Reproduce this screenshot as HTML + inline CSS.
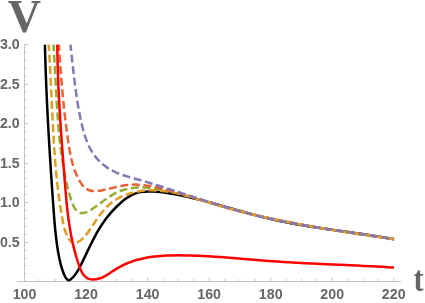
<!DOCTYPE html>
<html><head><meta charset="utf-8"><style>
html,body{margin:0;padding:0;background:#fff;}
body{width:425px;height:303px;overflow:hidden;}
svg{display:block;}
.tk{font-family:"Liberation Sans",sans-serif;font-weight:bold;font-size:14.2px;fill:#666;}
.lb{font-family:"Liberation Serif",serif;font-weight:bold;fill:#666;}
</style></head><body>
<svg width="425" height="303" viewBox="0 0 425 303">
<rect width="425" height="303" fill="#fff"/>
<clipPath id="c"><rect x="17" y="44.3" width="385" height="240"/></clipPath>
<rect x="17" y="281" width="384" height="1" fill="#c2c2c2"/>
<rect x="24" y="44" width="1" height="238" fill="#c2c2c2"/>
<rect x="39.38" y="279.00" width="1" height="2" fill="#c8c8c8"/>
<rect x="54.77" y="279.00" width="1" height="2" fill="#c8c8c8"/>
<rect x="70.16" y="279.00" width="1" height="2" fill="#c8c8c8"/>
<rect x="85.54" y="277.50" width="1" height="3.5" fill="#c8c8c8"/>
<rect x="100.92" y="279.00" width="1" height="2" fill="#c8c8c8"/>
<rect x="116.31" y="279.00" width="1" height="2" fill="#c8c8c8"/>
<rect x="131.69" y="279.00" width="1" height="2" fill="#c8c8c8"/>
<rect x="147.08" y="277.50" width="1" height="3.5" fill="#c8c8c8"/>
<rect x="162.47" y="279.00" width="1" height="2" fill="#c8c8c8"/>
<rect x="177.85" y="279.00" width="1" height="2" fill="#c8c8c8"/>
<rect x="193.23" y="279.00" width="1" height="2" fill="#c8c8c8"/>
<rect x="208.62" y="277.50" width="1" height="3.5" fill="#c8c8c8"/>
<rect x="224.00" y="279.00" width="1" height="2" fill="#c8c8c8"/>
<rect x="239.39" y="279.00" width="1" height="2" fill="#c8c8c8"/>
<rect x="254.78" y="279.00" width="1" height="2" fill="#c8c8c8"/>
<rect x="270.16" y="277.50" width="1" height="3.5" fill="#c8c8c8"/>
<rect x="285.55" y="279.00" width="1" height="2" fill="#c8c8c8"/>
<rect x="300.93" y="279.00" width="1" height="2" fill="#c8c8c8"/>
<rect x="316.31" y="279.00" width="1" height="2" fill="#c8c8c8"/>
<rect x="331.70" y="277.50" width="1" height="3.5" fill="#c8c8c8"/>
<rect x="347.08" y="279.00" width="1" height="2" fill="#c8c8c8"/>
<rect x="362.47" y="279.00" width="1" height="2" fill="#c8c8c8"/>
<rect x="377.86" y="279.00" width="1" height="2" fill="#c8c8c8"/>
<rect x="393.24" y="277.50" width="1" height="3.5" fill="#c8c8c8"/>
<rect x="25" y="273" width="1.6" height="1" fill="#c8c8c8"/>
<rect x="25" y="265" width="1.6" height="1" fill="#c8c8c8"/>
<rect x="25" y="258" width="1.6" height="1" fill="#c8c8c8"/>
<rect x="25" y="250" width="1.6" height="1" fill="#c8c8c8"/>
<rect x="25" y="242" width="3.5" height="1" fill="#c8c8c8"/>
<rect x="25" y="234" width="1.6" height="1" fill="#c8c8c8"/>
<rect x="25" y="226" width="1.6" height="1" fill="#c8c8c8"/>
<rect x="25" y="218" width="1.6" height="1" fill="#c8c8c8"/>
<rect x="25" y="210" width="1.6" height="1" fill="#c8c8c8"/>
<rect x="25" y="202" width="3.5" height="1" fill="#c8c8c8"/>
<rect x="25" y="194" width="1.6" height="1" fill="#c8c8c8"/>
<rect x="25" y="186" width="1.6" height="1" fill="#c8c8c8"/>
<rect x="25" y="178" width="1.6" height="1" fill="#c8c8c8"/>
<rect x="25" y="171" width="1.6" height="1" fill="#c8c8c8"/>
<rect x="25" y="163" width="3.5" height="1" fill="#c8c8c8"/>
<rect x="25" y="155" width="1.6" height="1" fill="#c8c8c8"/>
<rect x="25" y="147" width="1.6" height="1" fill="#c8c8c8"/>
<rect x="25" y="139" width="1.6" height="1" fill="#c8c8c8"/>
<rect x="25" y="131" width="1.6" height="1" fill="#c8c8c8"/>
<rect x="25" y="123" width="3.5" height="1" fill="#c8c8c8"/>
<rect x="25" y="115" width="1.6" height="1" fill="#c8c8c8"/>
<rect x="25" y="107" width="1.6" height="1" fill="#c8c8c8"/>
<rect x="25" y="99" width="1.6" height="1" fill="#c8c8c8"/>
<rect x="25" y="91" width="1.6" height="1" fill="#c8c8c8"/>
<rect x="25" y="84" width="3.5" height="1" fill="#c8c8c8"/>
<rect x="25" y="76" width="1.6" height="1" fill="#c8c8c8"/>
<rect x="25" y="68" width="1.6" height="1" fill="#c8c8c8"/>
<rect x="25" y="60" width="1.6" height="1" fill="#c8c8c8"/>
<rect x="25" y="52" width="1.6" height="1" fill="#c8c8c8"/>
<rect x="25" y="44" width="3.5" height="1" fill="#c8c8c8"/>
<g clip-path="url(#c)">
<path d="M44.90,44.48C44.95,46.48 45.00,48.48 45.06,50.47C45.11,52.47 45.17,54.46 45.23,56.46C45.29,58.46 45.35,60.45 45.41,62.44C45.48,64.44 45.54,66.43 45.61,68.42C45.68,70.42 45.75,72.41 45.82,74.40C45.90,76.39 45.97,78.38 46.05,80.37C46.13,82.36 46.21,84.35 46.29,86.34C46.37,88.33 46.45,90.32 46.54,92.31C46.63,94.30 46.72,96.28 46.81,98.27C46.90,100.26 46.99,102.25 47.08,104.23C47.18,106.22 47.27,108.21 47.37,110.20C47.47,112.18 47.57,114.17 47.67,116.16C47.77,118.14 47.88,120.13 47.98,122.11C48.09,124.10 48.20,126.09 48.31,128.07C48.42,130.06 48.53,132.04 48.64,134.03C48.75,136.02 48.87,138.00 48.98,139.99C49.10,141.97 49.21,143.96 49.33,145.94C49.45,147.93 49.57,149.92 49.69,151.90C49.82,153.89 49.94,155.88 50.06,157.86C50.19,159.85 50.32,161.84 50.44,163.82C50.57,165.81 50.70,167.80 50.83,169.79C50.96,171.77 51.09,173.76 51.22,175.75C51.36,177.74 51.49,179.73 51.63,181.72C51.76,183.71 51.90,185.70 52.03,187.69C52.17,189.68 52.31,191.67 52.45,193.66C52.59,195.65 52.73,197.64 52.87,199.63C53.01,201.63 53.15,203.62 53.30,205.61C53.44,207.61 53.59,209.60 53.73,211.60C53.88,213.59 54.03,215.58 54.18,217.58C54.34,219.57 54.50,221.56 54.67,223.55C54.84,225.54 55.02,227.53 55.21,229.51C55.40,231.49 55.61,233.47 55.83,235.45C56.05,237.42 56.28,239.39 56.54,241.36C56.79,243.32 57.06,245.28 57.36,247.23C57.65,249.18 57.97,251.12 58.31,253.05C58.65,254.99 59.02,256.91 59.42,258.83C59.83,260.76 60.28,262.68 60.80,264.62C61.31,266.57 61.90,268.53 62.58,270.52C63.26,272.51 64.02,274.55 65.02,276.46C66.01,278.37 67.25,280.25 68.66,280.26C70.08,280.27 71.59,278.66 72.89,277.35C74.18,276.04 75.35,274.53 76.43,272.90C77.52,271.28 78.52,269.52 79.47,267.72C80.42,265.91 81.33,264.06 82.23,262.21C83.13,260.36 84.02,258.52 84.90,256.67C85.78,254.83 86.65,252.99 87.53,251.16C88.40,249.34 89.28,247.52 90.17,245.71C91.05,243.90 91.94,242.11 92.85,240.33C93.76,238.56 94.68,236.80 95.62,235.06C96.57,233.33 97.53,231.62 98.53,229.93C99.53,228.24 100.55,226.58 101.61,224.96C102.68,223.33 103.77,221.73 104.92,220.17C106.06,218.61 107.24,217.08 108.48,215.58C109.71,214.07 111.00,212.59 112.34,211.13C113.68,209.66 115.07,208.21 116.53,206.75C117.99,205.30 119.51,203.84 121.09,202.44C122.67,201.04 124.30,199.70 125.99,198.49C127.67,197.27 129.41,196.18 131.18,195.29C132.96,194.39 134.77,193.68 136.62,193.12C138.47,192.56 140.36,192.16 142.26,191.88C144.17,191.61 146.11,191.46 148.06,191.41C150.01,191.36 151.97,191.41 153.95,191.53C155.93,191.65 157.91,191.85 159.90,192.08C161.88,192.31 163.86,192.59 165.84,192.88C167.82,193.17 169.79,193.49 171.76,193.82C173.73,194.16 175.69,194.51 177.65,194.89C179.61,195.26 181.56,195.65 183.51,196.06C185.46,196.47 187.41,196.89 189.35,197.33C191.29,197.77 193.23,198.22 195.17,198.69C197.11,199.16 199.04,199.63 200.97,200.12C202.90,200.61 204.83,201.11 206.76,201.62C208.68,202.12 210.61,202.64 212.53,203.16C214.45,203.69 216.37,204.21 218.29,204.75C220.21,205.28 222.13,205.82 224.05,206.36C225.96,206.90 227.88,207.45 229.80,207.99C231.71,208.54 233.63,209.08 235.55,209.62C237.46,210.17 239.38,210.71 241.30,211.25C243.22,211.79 245.13,212.33 247.05,212.86C248.97,213.39 250.89,213.92 252.82,214.44C254.74,214.96 256.66,215.47 258.59,215.97C260.51,216.47 262.44,216.97 264.37,217.45C266.30,217.94 268.24,218.41 270.17,218.87C272.11,219.33 274.05,219.77 275.99,220.21C277.93,220.64 279.88,221.06 281.83,221.46C283.77,221.87 285.73,222.26 287.68,222.64C289.63,223.02 291.59,223.39 293.55,223.74C295.51,224.10 297.47,224.45 299.44,224.79C301.40,225.12 303.37,225.45 305.33,225.78C307.30,226.10 309.27,226.41 311.24,226.72C313.21,227.02 315.18,227.32 317.16,227.62C319.13,227.91 321.10,228.20 323.08,228.49C325.05,228.78 327.03,229.06 329.00,229.34C330.98,229.62 332.96,229.89 334.93,230.17C336.91,230.44 338.89,230.72 340.86,230.99C342.84,231.27 344.82,231.54 346.79,231.82C348.77,232.09 350.74,232.37 352.72,232.65C354.69,232.93 356.66,233.21 358.64,233.49C360.61,233.78 362.58,234.07 364.55,234.36C366.52,234.66 368.49,234.96 370.45,235.26C372.42,235.57 374.38,235.88 376.35,236.20C378.31,236.52 380.27,236.85 382.22,237.18C384.18,237.52 386.14,237.87 388.09,238.22C390.04,238.58 391.99,238.95 393.94,239.32" fill="none" stroke="#000000" stroke-width="2.5"/>
<path d="M48.68,44.51C48.82,46.48 48.95,48.45 49.07,50.42C49.20,52.39 49.32,54.36 49.44,56.33C49.56,58.30 49.67,60.28 49.78,62.25C49.89,64.22 50.00,66.20 50.10,68.17C50.21,70.15 50.31,72.12 50.41,74.10C50.51,76.08 50.61,78.06 50.70,80.03C50.80,82.01 50.89,83.99 50.99,85.97C51.08,87.95 51.17,89.93 51.26,91.91C51.36,93.89 51.45,95.87 51.54,97.85C51.63,99.83 51.72,101.81 51.82,103.79C51.91,105.77 52.00,107.75 52.09,109.73C52.19,111.71 52.28,113.69 52.38,115.67C52.48,117.65 52.58,119.63 52.68,121.60C52.78,123.58 52.88,125.56 52.99,127.54C53.10,129.52 53.21,131.50 53.32,133.47C53.43,135.45 53.55,137.43 53.67,139.40C53.79,141.38 53.92,143.36 54.05,145.33C54.17,147.30 54.31,149.28 54.45,151.25C54.59,153.22 54.73,155.19 54.88,157.16C55.03,159.14 55.19,161.10 55.35,163.07C55.51,165.04 55.68,167.01 55.85,168.97C56.03,170.94 56.21,172.90 56.40,174.87C56.59,176.83 56.79,178.79 56.99,180.75C57.19,182.71 57.41,184.67 57.63,186.63C57.85,188.58 58.09,190.54 58.33,192.50C58.57,194.46 58.83,196.42 59.09,198.37C59.36,200.33 59.63,202.29 59.93,204.25C60.22,206.22 60.52,208.18 60.84,210.14C61.16,212.11 61.49,214.07 61.84,216.04C62.19,218.01 62.55,219.99 62.94,221.96C63.33,223.93 63.76,225.90 64.27,227.83C64.78,229.77 65.38,231.68 66.11,233.53C66.85,235.39 67.71,237.20 68.76,238.93C69.81,240.65 71.04,242.25 72.59,242.88" fill="none" stroke="#E19C24" stroke-width="2.5" stroke-dasharray="8.0 3.6" stroke-dashoffset="1.50"/>
<path d="M72.59,242.88C74.14,243.50 76.11,242.90 77.90,241.99C79.69,241.08 81.25,239.94 82.66,238.63C84.07,237.33 85.34,235.87 86.53,234.32C87.72,232.77 88.84,231.14 89.96,229.49C91.09,227.84 92.20,226.16 93.33,224.48C94.46,222.81 95.59,221.13 96.75,219.47C97.91,217.81 99.10,216.17 100.32,214.57C101.54,212.98 102.79,211.42 104.10,209.93C105.41,208.44 106.77,207.01 108.19,205.67C109.61,204.33 111.11,203.08 112.67,201.93C114.23,200.77 115.85,199.71 117.53,198.74C119.21,197.77 120.95,196.89 122.73,196.10C124.51,195.30 126.33,194.60 128.19,193.97C130.05,193.35 131.94,192.81 133.85,192.35C135.76,191.89 137.70,191.51 139.65,191.21C141.60,190.90 143.56,190.68 145.52,190.52C147.49,190.37 149.45,190.28 151.41,190.27C153.36,190.26 155.31,190.31 157.25,190.43C159.20,190.54 161.14,190.72 163.07,190.95C165.00,191.18 166.93,191.46 168.85,191.78C170.78,192.11 172.69,192.48 174.61,192.89C176.53,193.30 178.44,193.75 180.35,194.23C182.26,194.70 184.16,195.21 186.07,195.74C187.97,196.27 189.87,196.82 191.77,197.38C193.67,197.95 195.57,198.53 197.47,199.12C199.37,199.70 201.27,200.30 203.16,200.89C205.06,201.49 206.96,202.08 208.86,202.66C210.76,203.25 212.66,203.82 214.56,204.39C216.46,204.95 218.36,205.51 220.26,206.05C222.16,206.60 224.07,207.14 225.97,207.66C227.88,208.19 229.78,208.71 231.69,209.22C233.60,209.73 235.50,210.24 237.41,210.73C239.32,211.22 241.23,211.71 243.14,212.19C245.05,212.66 246.96,213.13 248.87,213.60C250.78,214.06 252.70,214.51 254.61,214.96C256.53,215.41 258.44,215.85 260.36,216.28C262.27,216.71 264.19,217.14 266.11,217.56C268.02,217.98 269.94,218.39 271.86,218.80C273.78,219.21 275.70,219.61 277.62,220.00C279.55,220.40 281.47,220.78 283.39,221.17C285.32,221.55 287.24,221.93 289.17,222.30C291.09,222.67 293.02,223.04 294.94,223.40C296.87,223.76 298.80,224.12 300.73,224.47C302.66,224.82 304.59,225.17 306.52,225.51C308.45,225.85 310.38,226.19 312.32,226.52C314.25,226.86 316.18,227.19 318.12,227.52C320.05,227.84 321.99,228.17 323.93,228.48C325.86,228.80 327.80,229.12 329.74,229.43C331.68,229.75 333.62,230.06 335.56,230.36C337.50,230.67 339.44,230.98 341.38,231.28C343.33,231.58 345.27,231.88 347.21,232.18C349.16,232.47 351.10,232.77 353.05,233.06C355.00,233.36 356.94,233.65 358.89,233.94C360.84,234.23 362.79,234.52 364.74,234.81C366.69,235.10 368.64,235.38 370.60,235.67C372.55,235.95 374.50,236.24 376.45,236.52C378.41,236.81 380.36,237.09 382.32,237.38C384.28,237.66 386.23,237.95 388.19,238.23C390.15,238.51 392.11,238.80 394.07,239.08" fill="none" stroke="#E19C24" stroke-width="2.5" stroke-dasharray="8.0 3.6" stroke-dashoffset="7.29"/>
<path d="M53.42,44.52C53.57,46.48 53.70,48.45 53.83,50.41C53.96,52.38 54.09,54.35 54.21,56.32C54.33,58.30 54.44,60.27 54.55,62.25C54.67,64.23 54.78,66.21 54.88,68.19C54.99,70.17 55.09,72.15 55.20,74.14C55.30,76.12 55.40,78.11 55.51,80.09C55.61,82.08 55.71,84.07 55.82,86.06C55.92,88.05 56.03,90.04 56.13,92.03C56.24,94.02 56.35,96.01 56.46,98.00C56.57,99.99 56.69,101.98 56.81,103.97C56.93,105.96 57.06,107.95 57.19,109.94C57.32,111.93 57.45,113.92 57.59,115.90C57.74,117.89 57.88,119.88 58.04,121.86C58.20,123.84 58.36,125.83 58.53,127.81C58.70,129.79 58.88,131.77 59.08,133.74C59.27,135.72 59.47,137.69 59.68,139.66C59.89,141.64 60.11,143.60 60.34,145.57C60.58,147.54 60.82,149.50 61.08,151.46C61.34,153.42 61.61,155.37 61.90,157.32C62.19,159.28 62.49,161.22 62.80,163.17C63.12,165.11 63.45,167.05 63.79,168.99C64.14,170.92 64.50,172.85 64.88,174.78C65.26,176.70 65.66,178.62 66.08,180.54C66.49,182.45 66.92,184.36 67.39,186.28C67.85,188.20 68.34,190.13 68.87,192.10C69.40,194.07 69.97,196.08 70.59,198.14C71.21,200.20 71.89,202.32 72.69,204.28C73.49,206.24 74.42,208.05 75.55,209.50C76.67,210.96 78.00,212.05 79.58,212.61C81.15,213.17 82.93,213.23 84.73,212.85C86.52,212.48 88.30,211.64 90.04,210.58C91.77,209.53 93.47,208.30 95.13,207.09C96.80,205.88 98.44,204.65 100.08,203.42C101.71,202.20 103.33,200.98 104.96,199.80C106.59,198.62 108.22,197.47 109.88,196.40C111.54,195.32 113.23,194.32 114.95,193.41C116.67,192.50 118.44,191.70 120.26,191.02C122.08,190.33 123.95,189.76 125.85,189.30C127.75,188.83 129.69,188.47 131.65,188.19C133.61,187.92 135.60,187.73 137.60,187.62C139.59,187.52 141.60,187.49 143.61,187.52C145.62,187.55 147.64,187.65 149.63,187.80C151.63,187.95 153.62,188.15 155.60,188.40C157.57,188.65 159.54,188.94 161.49,189.27C163.45,189.61 165.40,189.98 167.33,190.39C169.27,190.79 171.20,191.23 173.13,191.70C175.05,192.17 176.97,192.67 178.88,193.19C180.79,193.71 182.70,194.25 184.60,194.81C186.50,195.37 188.40,195.94 190.30,196.53C192.19,197.11 194.09,197.71 195.98,198.31C197.87,198.91 199.77,199.51 201.66,200.12C203.55,200.72 205.44,201.33 207.34,201.92C209.23,202.52 211.13,203.11 213.03,203.68C214.93,204.26 216.83,204.83 218.74,205.39C220.64,205.95 222.55,206.50 224.46,207.04C226.37,207.58 228.28,208.12 230.19,208.64C232.11,209.17 234.02,209.68 235.94,210.19C237.86,210.70 239.78,211.20 241.70,211.69C243.62,212.18 245.55,212.66 247.47,213.14C249.40,213.61 251.33,214.08 253.25,214.54C255.18,215.00 257.12,215.45 259.05,215.90C260.98,216.35 262.92,216.78 264.85,217.22C266.79,217.65 268.73,218.07 270.67,218.49C272.61,218.91 274.55,219.32 276.49,219.73C278.43,220.14 280.38,220.54 282.32,220.93C284.27,221.32 286.21,221.71 288.16,222.09C290.11,222.48 292.06,222.85 294.01,223.22C295.96,223.60 297.91,223.96 299.86,224.32C301.82,224.69 303.77,225.04 305.72,225.39C307.68,225.74 309.63,226.09 311.59,226.43C313.55,226.78 315.50,227.11 317.46,227.45C319.42,227.78 321.38,228.11 323.34,228.44C325.30,228.76 327.26,229.08 329.22,229.40C331.18,229.72 333.14,230.04 335.10,230.35C337.06,230.66 339.02,230.97 340.99,231.27C342.95,231.58 344.91,231.88 346.88,232.18C348.84,232.48 350.80,232.78 352.77,233.07C354.73,233.37 356.69,233.66 358.66,233.95C360.62,234.24 362.58,234.53 364.55,234.82C366.51,235.10 368.48,235.39 370.44,235.67C372.41,235.96 374.37,236.24 376.33,236.52C378.30,236.80 380.26,237.08 382.22,237.36C384.19,237.64 386.15,237.92 388.11,238.19C390.07,238.47 392.04,238.75 394.00,239.02" fill="none" stroke="#8FB032" stroke-width="2.5" stroke-dasharray="8.0 3.6" stroke-dashoffset="1.50"/>
<path d="M58.83,44.47C58.97,46.48 59.10,48.48 59.24,50.48C59.37,52.48 59.51,54.48 59.65,56.47C59.79,58.46 59.93,60.45 60.07,62.43C60.22,64.42 60.36,66.40 60.51,68.38C60.66,70.36 60.81,72.33 60.96,74.31C61.12,76.28 61.27,78.25 61.44,80.22C61.60,82.20 61.76,84.16 61.93,86.13C62.10,88.10 62.27,90.06 62.45,92.03C62.63,93.99 62.81,95.96 63.00,97.92C63.19,99.89 63.39,101.85 63.58,103.81C63.78,105.78 63.99,107.74 64.20,109.70C64.41,111.66 64.63,113.63 64.86,115.59C65.08,117.56 65.31,119.52 65.55,121.49C65.79,123.45 66.04,125.42 66.29,127.39C66.54,129.36 66.81,131.33 67.08,133.30C67.35,135.27 67.63,137.25 67.91,139.22C68.20,141.20 68.49,143.18 68.80,145.16C69.11,147.14 69.43,149.13 69.78,151.10C70.13,153.08 70.51,155.05 70.93,157.01C71.35,158.97 71.81,160.92 72.32,162.85C72.84,164.78 73.41,166.69 74.05,168.58C74.69,170.48 75.40,172.34 76.20,174.18C76.99,176.02 77.86,177.83 78.83,179.61C79.80,181.39 80.87,183.14 82.07,184.71C83.26,186.28 84.59,187.66 86.09,188.70C87.59,189.74 89.28,190.37 91.10,190.68C92.92,190.99 94.85,191.00 96.79,190.87C98.73,190.75 100.68,190.49 102.63,190.15C104.59,189.81 106.54,189.39 108.51,188.93C110.47,188.47 112.44,187.97 114.41,187.48C116.37,187.00 118.35,186.52 120.32,186.11C122.29,185.70 124.27,185.34 126.24,185.09C128.22,184.84 130.19,184.69 132.16,184.63C134.14,184.57 136.11,184.59 138.08,184.69C140.05,184.78 142.02,184.95 143.99,185.19C145.95,185.42 147.91,185.71 149.87,186.05C151.83,186.38 153.79,186.77 155.74,187.19C157.69,187.61 159.64,188.06 161.58,188.53C163.53,189.00 165.46,189.50 167.39,190.00C169.32,190.50 171.25,191.02 173.17,191.55C175.09,192.08 177.01,192.62 178.92,193.17C180.83,193.72 182.74,194.27 184.64,194.84C186.55,195.40 188.45,195.97 190.35,196.55C192.25,197.12 194.15,197.70 196.05,198.29C197.95,198.87 199.84,199.45 201.74,200.04C203.63,200.62 205.53,201.21 207.42,201.79C209.31,202.37 211.21,202.95 213.11,203.53C215.00,204.10 216.90,204.67 218.80,205.24C220.70,205.80 222.60,206.36 224.50,206.91C226.40,207.46 228.31,208.00 230.22,208.53C232.13,209.06 234.04,209.58 235.95,210.10C237.87,210.61 239.78,211.11 241.70,211.61C243.62,212.11 245.54,212.59 247.46,213.08C249.39,213.56 251.31,214.03 253.24,214.49C255.17,214.96 257.10,215.41 259.03,215.86C260.96,216.31 262.89,216.76 264.83,217.19C266.76,217.63 268.70,218.06 270.64,218.48C272.58,218.90 274.52,219.31 276.46,219.72C278.41,220.13 280.35,220.53 282.30,220.93C284.24,221.32 286.19,221.71 288.14,222.10C290.09,222.48 292.04,222.86 293.99,223.23C295.94,223.61 297.89,223.97 299.84,224.34C301.80,224.70 303.75,225.05 305.71,225.41C307.66,225.76 309.62,226.11 311.58,226.45C313.54,226.79 315.50,227.13 317.45,227.46C319.41,227.80 321.37,228.13 323.33,228.45C325.30,228.78 327.26,229.10 329.22,229.42C331.18,229.74 333.14,230.05 335.11,230.36C337.07,230.67 339.03,230.98 341.00,231.29C342.96,231.59 344.92,231.89 346.89,232.19C348.85,232.49 350.81,232.79 352.78,233.08C354.74,233.38 356.71,233.67 358.67,233.96C360.64,234.25 362.60,234.54 364.56,234.82C366.53,235.11 368.49,235.39 370.45,235.67C372.42,235.96 374.38,236.24 376.34,236.52C378.30,236.80 380.27,237.08 382.23,237.36C384.19,237.63 386.15,237.91 388.11,238.19C390.07,238.46 392.03,238.74 393.99,239.02" fill="none" stroke="#EB6235" stroke-width="2.5" stroke-dasharray="8.0 3.6" stroke-dashoffset="1.50"/>
<path d="M200.03,199.23C201.88,199.87 203.72,200.49 205.57,201.10C207.42,201.72 209.28,202.32 211.13,202.91C212.99,203.50 214.84,204.08 216.71,204.66C218.57,205.23 220.43,205.79 222.29,206.34C224.16,206.89 226.03,207.43 227.90,207.97C229.77,208.50 231.64,209.02 233.51,209.53C235.39,210.05 237.26,210.55 239.14,211.05C241.02,211.54 242.90,212.03 244.79,212.51C246.67,212.99 248.55,213.46 250.44,213.92C252.33,214.38 254.22,214.84 256.11,215.29C258.00,215.73 259.89,216.17 261.78,216.60C263.68,217.03 265.57,217.46 267.47,217.88C269.37,218.29 271.27,218.70 273.17,219.11C275.07,219.51 276.97,219.91 278.88,220.30C280.78,220.69 282.69,221.08 284.59,221.46C286.50,221.83 288.41,222.21 290.31,222.57C292.22,222.94 294.13,223.30 296.04,223.66C297.96,224.02 299.87,224.37 301.78,224.71C303.70,225.06 305.61,225.40 307.52,225.74C309.44,226.08 311.36,226.41 313.27,226.74C315.19,227.07 317.11,227.39 319.03,227.71C320.95,228.03 322.87,228.35 324.78,228.66C326.70,228.98 328.63,229.29 330.55,229.59C332.47,229.90 334.39,230.20 336.31,230.50C338.23,230.80 340.16,231.10 342.08,231.40C344.00,231.69 345.92,231.99 347.85,232.28C349.77,232.57 351.69,232.86 353.62,233.15C355.54,233.44 357.47,233.72 359.39,234.01C361.31,234.29 363.24,234.58 365.16,234.86C367.08,235.14 369.01,235.42 370.93,235.70C372.85,235.98 374.78,236.26 376.70,236.54C378.62,236.82 380.55,237.10 382.47,237.38C384.39,237.66 386.31,237.94 388.23,238.22C390.15,238.50 392.08,238.78 394.00,239.07" fill="none" stroke="#E19C24" stroke-width="2.5"/>
<path d="M70.39,44.50C70.63,46.52 70.86,48.54 71.09,50.54C71.31,52.55 71.54,54.54 71.76,56.53C71.98,58.52 72.19,60.50 72.41,62.47C72.63,64.44 72.84,66.41 73.06,68.37C73.28,70.33 73.50,72.29 73.73,74.24C73.96,76.20 74.19,78.15 74.42,80.09C74.66,82.04 74.90,83.98 75.15,85.93C75.40,87.87 75.66,89.81 75.93,91.75C76.20,93.69 76.48,95.64 76.78,97.58C77.07,99.52 77.38,101.47 77.70,103.41C78.02,105.36 78.36,107.31 78.71,109.26C79.07,111.22 79.44,113.18 79.83,115.14C80.22,117.10 80.63,119.07 81.06,121.05C81.49,123.02 81.94,125.01 82.43,126.99C82.91,128.96 83.43,130.94 84.00,132.89C84.56,134.85 85.17,136.78 85.85,138.69C86.52,140.59 87.25,142.46 88.06,144.28C88.86,146.11 89.74,147.88 90.71,149.60C91.68,151.32 92.74,152.97 93.87,154.56C95.01,156.15 96.22,157.67 97.51,159.12C98.81,160.57 100.17,161.94 101.61,163.24C103.05,164.53 104.56,165.75 106.13,166.87C107.70,168.00 109.34,169.04 111.03,169.99C112.73,170.94 114.49,171.79 116.29,172.57C118.09,173.35 119.94,174.06 121.82,174.72C123.69,175.37 125.60,175.97 127.53,176.55C129.45,177.12 131.40,177.67 133.34,178.20C135.28,178.74 137.23,179.27 139.16,179.81C141.09,180.36 143.01,180.91 144.93,181.48C146.84,182.05 148.75,182.63 150.65,183.21C152.55,183.80 154.45,184.39 156.35,184.98C158.25,185.57 160.15,186.17 162.05,186.78C163.94,187.38 165.84,187.99 167.73,188.60C169.62,189.21 171.51,189.82 173.40,190.43C175.29,191.05 177.18,191.66 179.07,192.28C180.96,192.90 182.85,193.52 184.74,194.14C186.63,194.76 188.51,195.38 190.40,195.99C192.29,196.61 194.17,197.23 196.06,197.84C197.95,198.46 199.84,199.07 201.72,199.68C203.61,200.29 205.50,200.90 207.39,201.50C209.28,202.10 211.17,202.70 213.06,203.30C214.95,203.89 216.85,204.48 218.74,205.07C220.64,205.65 222.53,206.23 224.43,206.80C226.33,207.37 228.23,207.94 230.13,208.49C232.03,209.05 233.93,209.60 235.84,210.14C237.75,210.68 239.66,211.21 241.57,211.73C243.48,212.25 245.39,212.76 247.31,213.27C249.23,213.77 251.15,214.26 253.07,214.74C255.00,215.22 256.92,215.68 258.85,216.14C260.78,216.60 262.72,217.05 264.65,217.49C266.59,217.93 268.53,218.35 270.47,218.77C272.41,219.19 274.35,219.61 276.30,220.01C278.24,220.41 280.19,220.81 282.14,221.19C284.09,221.58 286.04,221.96 288.00,222.33C289.95,222.70 291.90,223.07 293.86,223.42C295.82,223.78 297.78,224.13 299.74,224.48C301.70,224.83 303.66,225.17 305.62,225.50C307.58,225.84 309.55,226.17 311.51,226.49C313.48,226.82 315.44,227.14 317.41,227.46C319.37,227.77 321.34,228.08 323.31,228.39C325.27,228.70 327.24,229.01 329.21,229.31C331.18,229.62 333.15,229.92 335.11,230.22C337.08,230.51 339.05,230.81 341.02,231.11C342.99,231.40 344.95,231.70 346.92,231.99C348.89,232.28 350.86,232.57 352.82,232.87C354.79,233.16 356.75,233.45 358.72,233.74C360.68,234.03 362.65,234.33 364.61,234.62C366.57,234.91 368.53,235.21 370.49,235.50C372.45,235.80 374.41,236.10 376.37,236.40C378.33,236.70 380.28,237.00 382.24,237.31C384.19,237.61 386.14,237.92 388.09,238.23C390.04,238.55 391.99,238.86 393.94,239.18" fill="none" stroke="#8778B3" stroke-width="2.5" stroke-dasharray="8.0 3.6" stroke-dashoffset="1.50"/>
<path d="M57.31,44.53C57.32,46.51 57.34,48.50 57.37,50.48C57.39,52.46 57.42,54.45 57.46,56.43C57.50,58.42 57.54,60.41 57.59,62.40C57.63,64.38 57.69,66.37 57.75,68.37C57.81,70.36 57.87,72.35 57.94,74.34C58.01,76.33 58.08,78.33 58.16,80.32C58.24,82.32 58.32,84.31 58.41,86.31C58.50,88.31 58.59,90.30 58.69,92.30C58.78,94.30 58.88,96.30 58.99,98.29C59.09,100.29 59.20,102.29 59.31,104.29C59.42,106.29 59.54,108.29 59.66,110.29C59.78,112.29 59.90,114.29 60.02,116.28C60.15,118.28 60.28,120.28 60.41,122.28C60.54,124.28 60.67,126.28 60.81,128.28C60.94,130.27 61.08,132.27 61.22,134.27C61.36,136.27 61.50,138.26 61.65,140.26C61.79,142.25 61.94,144.25 62.09,146.24C62.23,148.24 62.38,150.23 62.53,152.22C62.68,154.22 62.84,156.21 62.99,158.20C63.14,160.19 63.30,162.18 63.45,164.17C63.60,166.15 63.76,168.14 63.92,170.13C64.07,172.11 64.23,174.09 64.38,176.08C64.54,178.06 64.70,180.04 64.85,182.02C65.01,184.00 65.17,185.97 65.33,187.95C65.49,189.93 65.65,191.90 65.82,193.88C65.99,195.85 66.17,197.82 66.35,199.79C66.54,201.77 66.73,203.74 66.93,205.71C67.14,207.68 67.35,209.65 67.58,211.62C67.81,213.59 68.05,215.56 68.31,217.53C68.56,219.50 68.84,221.47 69.13,223.44C69.42,225.41 69.73,227.38 70.06,229.35C70.39,231.32 70.75,233.29 71.12,235.27C71.50,237.24 71.90,239.21 72.32,241.19C72.75,243.16 73.20,245.14 73.68,247.12C74.16,249.09 74.67,251.07 75.20,253.05C75.74,255.03 76.31,257.02 76.92,259.00C77.52,260.98 78.16,262.98 78.84,264.96C79.51,266.93 80.25,268.88 81.10,270.67C81.96,272.46 82.94,274.10 84.10,275.46C85.27,276.82 86.64,277.89 88.23,278.58C89.81,279.28 91.58,279.60 93.44,279.56C95.31,279.52 97.26,279.13 99.22,278.51C101.18,277.89 103.14,277.02 105.01,276.03C106.89,275.03 108.66,273.91 110.40,272.75C112.13,271.60 113.84,270.43 115.56,269.34C117.29,268.25 119.05,267.24 120.82,266.31C122.60,265.37 124.40,264.52 126.22,263.73C128.04,262.95 129.89,262.24 131.75,261.59C133.61,260.94 135.49,260.35 137.38,259.83C139.28,259.30 141.19,258.84 143.12,258.42C145.04,258.01 146.98,257.64 148.94,257.33C150.89,257.01 152.85,256.74 154.82,256.52C156.79,256.29 158.78,256.10 160.76,255.95C162.75,255.80 164.75,255.68 166.74,255.59C168.74,255.50 170.75,255.44 172.75,255.41C174.76,255.37 176.77,255.35 178.77,255.36C180.78,255.36 182.79,255.38 184.79,255.41C186.80,255.44 188.80,255.48 190.80,255.54C192.80,255.59 194.80,255.66 196.80,255.74C198.80,255.81 200.79,255.90 202.79,256.00C204.79,256.09 206.78,256.20 208.77,256.31C210.77,256.43 212.76,256.55 214.75,256.68C216.74,256.80 218.73,256.94 220.72,257.08C222.71,257.22 224.70,257.37 226.69,257.52C228.68,257.67 230.66,257.82 232.65,257.98C234.64,258.14 236.63,258.30 238.61,258.46C240.60,258.62 242.59,258.79 244.57,258.96C246.56,259.12 248.54,259.29 250.53,259.45C252.52,259.62 254.50,259.79 256.49,259.95C258.48,260.11 260.46,260.28 262.45,260.44C264.44,260.60 266.42,260.75 268.41,260.90C270.40,261.06 272.39,261.21 274.38,261.35C276.37,261.49 278.36,261.63 280.35,261.76C282.34,261.90 284.33,262.03 286.32,262.15C288.31,262.27 290.31,262.39 292.30,262.51C294.29,262.63 296.29,262.74 298.28,262.85C300.27,262.96 302.27,263.06 304.26,263.16C306.26,263.27 308.25,263.37 310.25,263.46C312.24,263.56 314.24,263.66 316.23,263.75C318.23,263.84 320.23,263.94 322.22,264.03C324.22,264.12 326.21,264.21 328.21,264.29C330.21,264.38 332.20,264.47 334.20,264.56C336.19,264.64 338.19,264.73 340.18,264.82C342.18,264.91 344.18,264.99 346.17,265.08C348.17,265.17 350.16,265.26 352.16,265.35C354.15,265.44 356.15,265.53 358.14,265.62C360.14,265.72 362.13,265.81 364.12,265.91C366.12,266.01 368.11,266.11 370.10,266.21C372.09,266.31 374.09,266.42 376.08,266.53C378.07,266.64 380.06,266.75 382.05,266.86C384.04,266.98 386.03,267.10 388.02,267.22C390.01,267.35 391.99,267.47 393.98,267.61" fill="none" stroke="#FF0000" stroke-width="2.5"/>
</g>
<g style="filter:grayscale(1)">
<text x="24.5" y="299.3" text-anchor="middle" class="tk">100</text>
<text x="86.0" y="299.3" text-anchor="middle" class="tk">120</text>
<text x="147.6" y="299.3" text-anchor="middle" class="tk">140</text>
<text x="209.1" y="299.3" text-anchor="middle" class="tk">160</text>
<text x="270.7" y="299.3" text-anchor="middle" class="tk">180</text>
<text x="332.2" y="299.3" text-anchor="middle" class="tk">200</text>
<text x="393.7" y="299.3" text-anchor="middle" class="tk">220</text>
<text x="19.7" y="246.9" text-anchor="end" class="tk">0.5</text>
<text x="19.7" y="207.4" text-anchor="end" class="tk">1.0</text>
<text x="19.7" y="167.8" text-anchor="end" class="tk">1.5</text>
<text x="19.7" y="128.3" text-anchor="end" class="tk">2.0</text>
<text x="19.7" y="88.8" text-anchor="end" class="tk">2.5</text>
<text x="19.7" y="49.2" text-anchor="end" class="tk">3.0</text>
<text x="7.8" y="31.8" class="lb" font-size="46">V</text>
<text transform="translate(413.6,291) scale(0.86,1)" class="lb" font-size="35.4">t</text>
</g>
</svg>
</body></html>
